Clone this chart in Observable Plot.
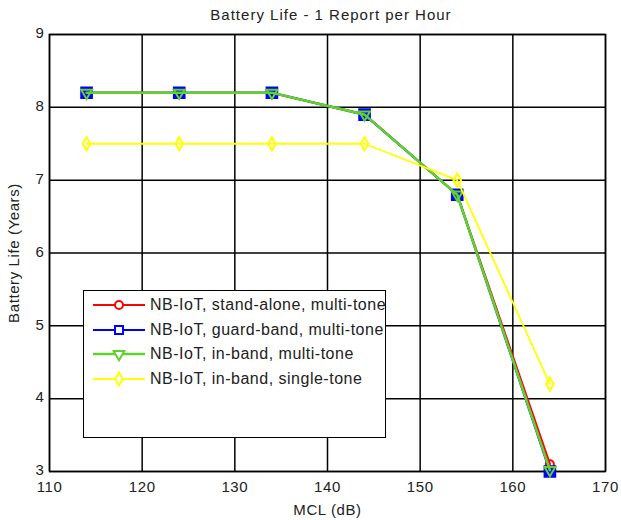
<!DOCTYPE html>
<html><head><meta charset="utf-8">
<script src="https://cdn.jsdelivr.net/npm/d3@7"></script>
<script src="https://cdn.jsdelivr.net/npm/@observablehq/plot@0.6"></script>
<style>
body{margin:0;background:#fff;font-family:"Liberation Sans",Arial,sans-serif;}
#wrap{position:relative;width:621px;height:520px;}
#title{position:absolute;top:6px;left:53px;width:556px;text-align:center;font-size:15px;letter-spacing:1px;color:#222;}
#legend{position:absolute;left:83px;top:290px;width:303px;height:148px;border:1px solid #000;background:#fff;box-sizing:border-box;padding-top:2px;overflow:hidden;}
.row{display:flex;align-items:center;height:24.5px;font-size:16px;letter-spacing:0.5px;color:#222;white-space:nowrap;}
.row svg{margin-left:9px;margin-right:5px;flex:none;}
</style></head><body>
<div id="wrap"><div id="title">Battery Life - 1 Report per Hour</div><div id="legend"></div></div>
<script>
// MCL values (dB)
const mcl = [114, 124, 134, 144, 154, 164];
// Battery life (years)
const standAlone   = [8.2, 8.2, 8.2, 7.9, 6.8, 3.1];
const guardBand    = [8.2, 8.2, 8.2, 7.9, 6.8, 3.0];
const inBandMulti  = [8.2, 8.2, 8.2, 7.9, 6.8, 3.02];
const inBandSingle = [7.5, 7.5, 7.5, 7.5, 7.0, 4.2];
const seriesNames = [
  "NB-IoT, stand-alone, multi-tone",
  "NB-IoT, guard-band, multi-tone",
  "NB-IoT, in-band, multi-tone",
  "NB-IoT, in-band, single-tone"
];
const seriesValues = [standAlone, guardBand, inBandMulti, inBandSingle];
const seriesColors = ["#ff0000", "#0000ff", "#5fd22e", "#ffff00"];
const seriesSymbols = ["circle", "square", "triangle", "diamond"];
const seriesRotate = [0, 0, 180, 0];
const seriesR = [4, 6, 4, 4];
const seriesFill = ["none", "#0000ff", "none", "none"];
const seriesWidth = [2.2, 2.2, 2.6, 1.8];
const xTicks = [110, 120, 130, 140, 150, 160, 170];
const yTicks = [3, 4, 5, 6, 7, 8, 9];

const series = seriesNames.map((name, i) => ({
  name, color: seriesColors[i], symbol: seriesSymbols[i], rotate: seriesRotate[i], r: seriesR[i],
  fill: seriesFill[i], width: seriesWidth[i],
  data: mcl.map((x, j) => ({x, y: seriesValues[i][j]}))
}));

const fmt = d => String(d);
const marks = [
  Plot.gridX(xTicks, {stroke: "#000", strokeOpacity: 1, strokeWidth: 1.5}),
  Plot.gridY(yTicks, {stroke: "#000", strokeOpacity: 1, strokeWidth: 1.5}),
  Plot.frame({stroke: "#000", strokeWidth: 1.5}),
  Plot.axisX(xTicks, {tickSize: 0, tickPadding: 10, fontSize: 15, color: "#222", tickFormat: fmt, label: "MCL (dB)", labelAnchor: "center", labelOffset: 43, labelArrow: "none"}),
  Plot.axisY(yTicks, {tickSize: 0, tickPadding: 5, dy: -1, fontSize: 15, color: "#222", tickFormat: fmt, label: "Battery Life (Years)", labelAnchor: "center", labelOffset: 41, labelArrow: "none"})
];
for (const s of series) {
  marks.push(Plot.line(s.data, {x: "x", y: "y", stroke: s.color, strokeWidth: s.width}));
  marks.push(Plot.dot(s.data, {x: "x", y: "y", stroke: s.color, strokeWidth: 2, fill: s.fill, symbol: s.symbol, r: s.r, rotate: s.rotate}));
}

const chart = Plot.plot({
  width: 621, height: 520,
  marginTop: 34, marginLeft: 49, marginRight: 16, marginBottom: 49,
  style: {fontFamily: "'Liberation Sans', Arial, sans-serif", fontSize: "15px", background: "transparent"},
  x: {domain: [110, 170]},
  y: {domain: [3, 9]},
  marks
});
chart.querySelectorAll("text").forEach(t => t.style.letterSpacing = "0.6px");
const wrap = document.getElementById("wrap");
wrap.insertBefore(chart, wrap.firstChild);
chart.style.position = "absolute"; chart.style.left = "0"; chart.style.top = "0";

const legend = document.getElementById("legend");
for (const s of series) {
  const row = document.createElement("div");
  row.className = "row";
  const sym = {circle: d3.symbolCircle, square: d3.symbolSquare, triangle: d3.symbolTriangle, diamond: d3.symbolDiamond}[s.symbol];
  const svg = d3.create("svg").attr("width", 52).attr("height", 16);
  svg.append("line").attr("x1", 0).attr("x2", 52).attr("y1", 8).attr("y2", 8).attr("stroke", s.color).attr("stroke-width", s.width);
  svg.append("path").attr("d", d3.symbol(sym, Math.PI * Math.min(s.r, 4.5) ** 2)())
    .attr("transform", `translate(26,8) rotate(${s.rotate})`)
    .attr("fill", "#fff").attr("stroke", s.color).attr("stroke-width", 2);
  row.appendChild(svg.node());
  const t = document.createElement("span"); t.textContent = s.name;
  row.appendChild(t);
  legend.appendChild(row);
}
</script>
</body></html>
